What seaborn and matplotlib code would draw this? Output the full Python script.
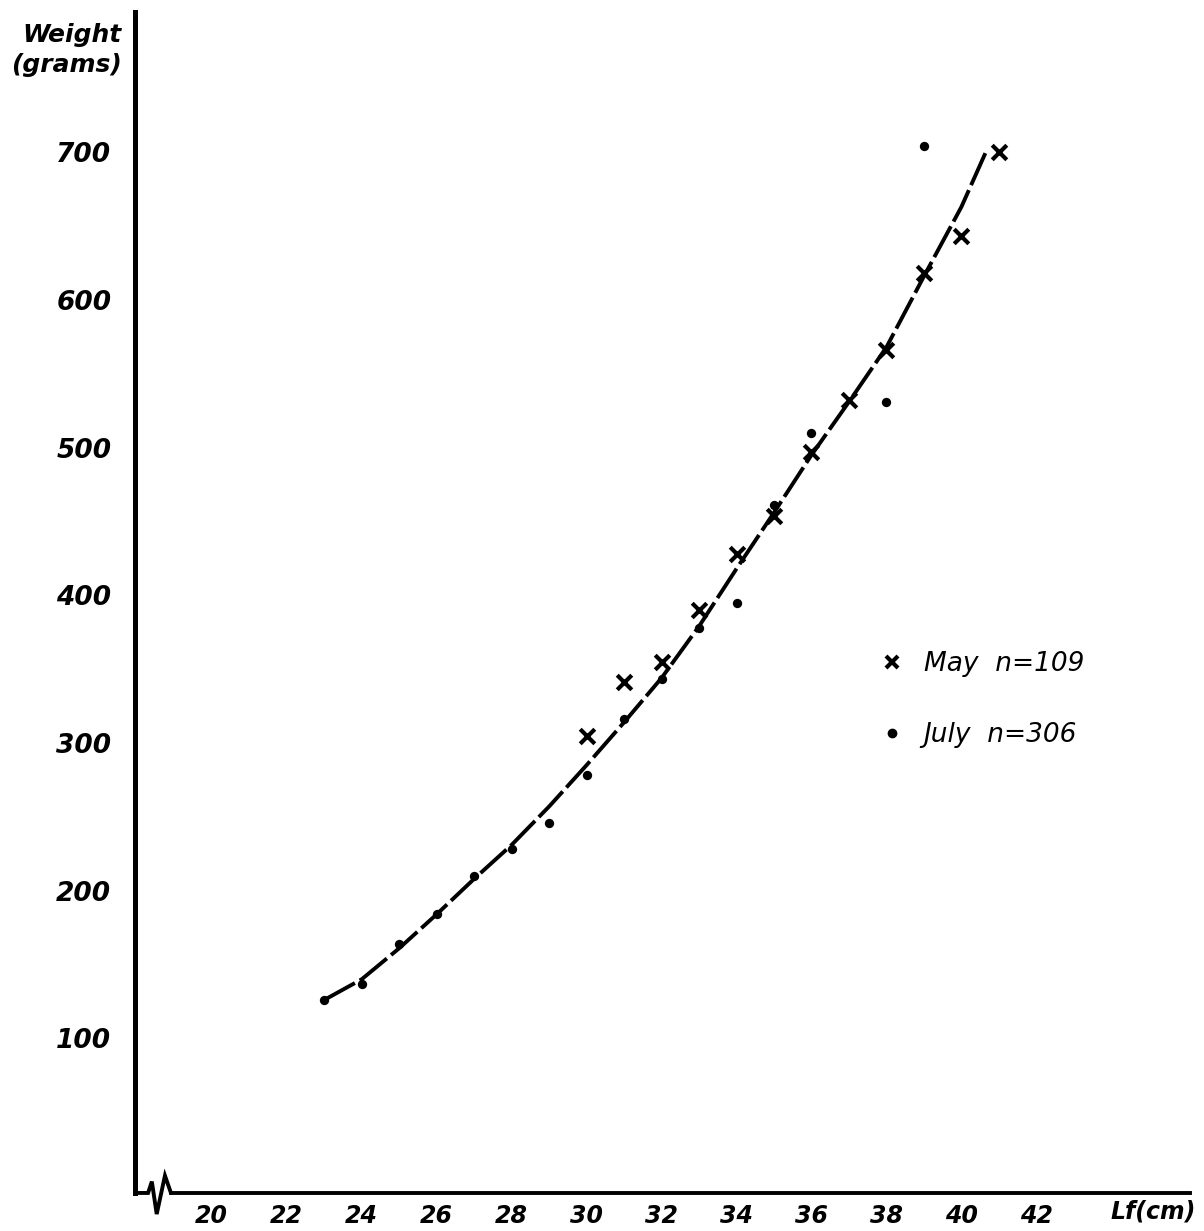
import numpy as np
import matplotlib
matplotlib.use("Agg")
import matplotlib.pyplot as plt
import seaborn as sns
from matplotlib.lines import Line2D

# Fitted length-weight curve
curve_len = [23, 24, 25, 26, 27, 28, 29, 30, 31, 32, 33, 34, 35, 36, 37, 38, 39, 40, 40.65]
curve_wt = [126, 140, 161, 184, 208, 231, 257, 285, 314, 344, 379, 418, 456, 495, 531, 568, 616, 663, 700]

# May samples (x marks)
may_len = [30, 31, 32, 33, 34, 35, 36, 37, 38, 39, 40, 41]
may_wt = [305, 341, 355, 390, 428, 454, 497, 532, 566, 618, 643, 700]

# July samples (dots)
july_len = [23, 24, 25, 26, 27, 28, 29, 30, 31, 32, 33, 34, 35, 36, 38, 39]
july_wt = [126, 137, 164, 184, 210, 228, 246, 278, 316, 343, 378, 395, 461, 510, 531, 704]

x_ticks = [20, 22, 24, 26, 28, 30, 32, 34, 36, 38, 40, 42]
y_ticks = [100, 200, 300, 400, 500, 600, 700]

sns.set_style("white")
plt.rcParams["font.family"] = ["DejaVu Sans"]
plt.rcParams["text.color"] = "black"

fig = plt.figure(figsize=(12.04, 12.31), dpi=100)
ax = fig.add_axes([0.1121, 0.0309, 0.8763, 0.9594])

sns.lineplot(x=curve_len, y=curve_wt, ax=ax, color="black", linewidth=2.8,
             linestyle=(0, (9, 1.4)), sort=False)
sns.scatterplot(x=july_len, y=july_wt, ax=ax, color="black", marker="o", s=45,
                edgecolor="black", linewidth=0, zorder=4)
sns.scatterplot(x=may_len, y=may_wt, ax=ax, color="black", marker="x", s=110,
                linewidth=3, zorder=5)

ax.set_xlim(17.95, 46.1)
ax.set_ylim(-4.7, 795)
ax.set_xticks(x_ticks)
ax.set_yticks(y_ticks)
ax.set_xlabel("")
ax.set_ylabel("")

for side in ["top", "right"]:
    ax.spines[side].set_visible(False)
ax.spines["left"].set_linewidth(3.6)
ax.spines["left"].set_color("black")
ax.spines["bottom"].set_linewidth(2.8)
ax.spines["bottom"].set_color("black")
ax.spines["bottom"].set_bounds(18.91, 46.1)

# axis break on the length axis
ax.plot([17.95, 18.3, 18.4, 18.53, 18.75, 18.91],
        [-4.7, -4.7, 3, -19, 7, -4.7],
        color="black", linewidth=2.8, clip_on=False, solid_joinstyle="miter")

ax.tick_params(axis="both", direction="out", width=3, color="black",
               labelcolor="black")
ax.tick_params(axis="y", length=12, labelsize=19, pad=5)
ax.tick_params(axis="x", length=7, labelsize=17, pad=1)
for lab in ax.get_xticklabels() + ax.get_yticklabels():
    lab.set_fontstyle("italic")
    lab.set_fontweight("bold")

fig.text(122 / 1204, 1 - 50 / 1231, "Weight\n(grams)", ha="right", va="center",
         multialignment="right", fontsize=18, fontstyle="italic", fontweight="bold",
         linespacing=1.3, color="black")
fig.text(1196 / 1204, 1 - 1212 / 1231, "Lf(cm)", ha="right", va="center",
         fontsize=17, fontstyle="italic", fontweight="bold", color="black")

handles = [
    Line2D([], [], color="black", marker="x", linestyle="none", markersize=9,
           markeredgewidth=3),
    Line2D([], [], color="black", marker="o", linestyle="none", markersize=6),
]
leg = ax.legend(handles, ["May  n=109", "July  n=306"], loc="center left",
                bbox_to_anchor=(0.705, 0.4175), frameon=False, fontsize=19,
                labelspacing=1.7, handlelength=1.0, handletextpad=0.7,
                borderpad=0, borderaxespad=0)
for t in leg.get_texts():
    t.set_fontstyle("italic")
    t.set_color("black")

fig.savefig("out.png", dpi=100, facecolor="white")
